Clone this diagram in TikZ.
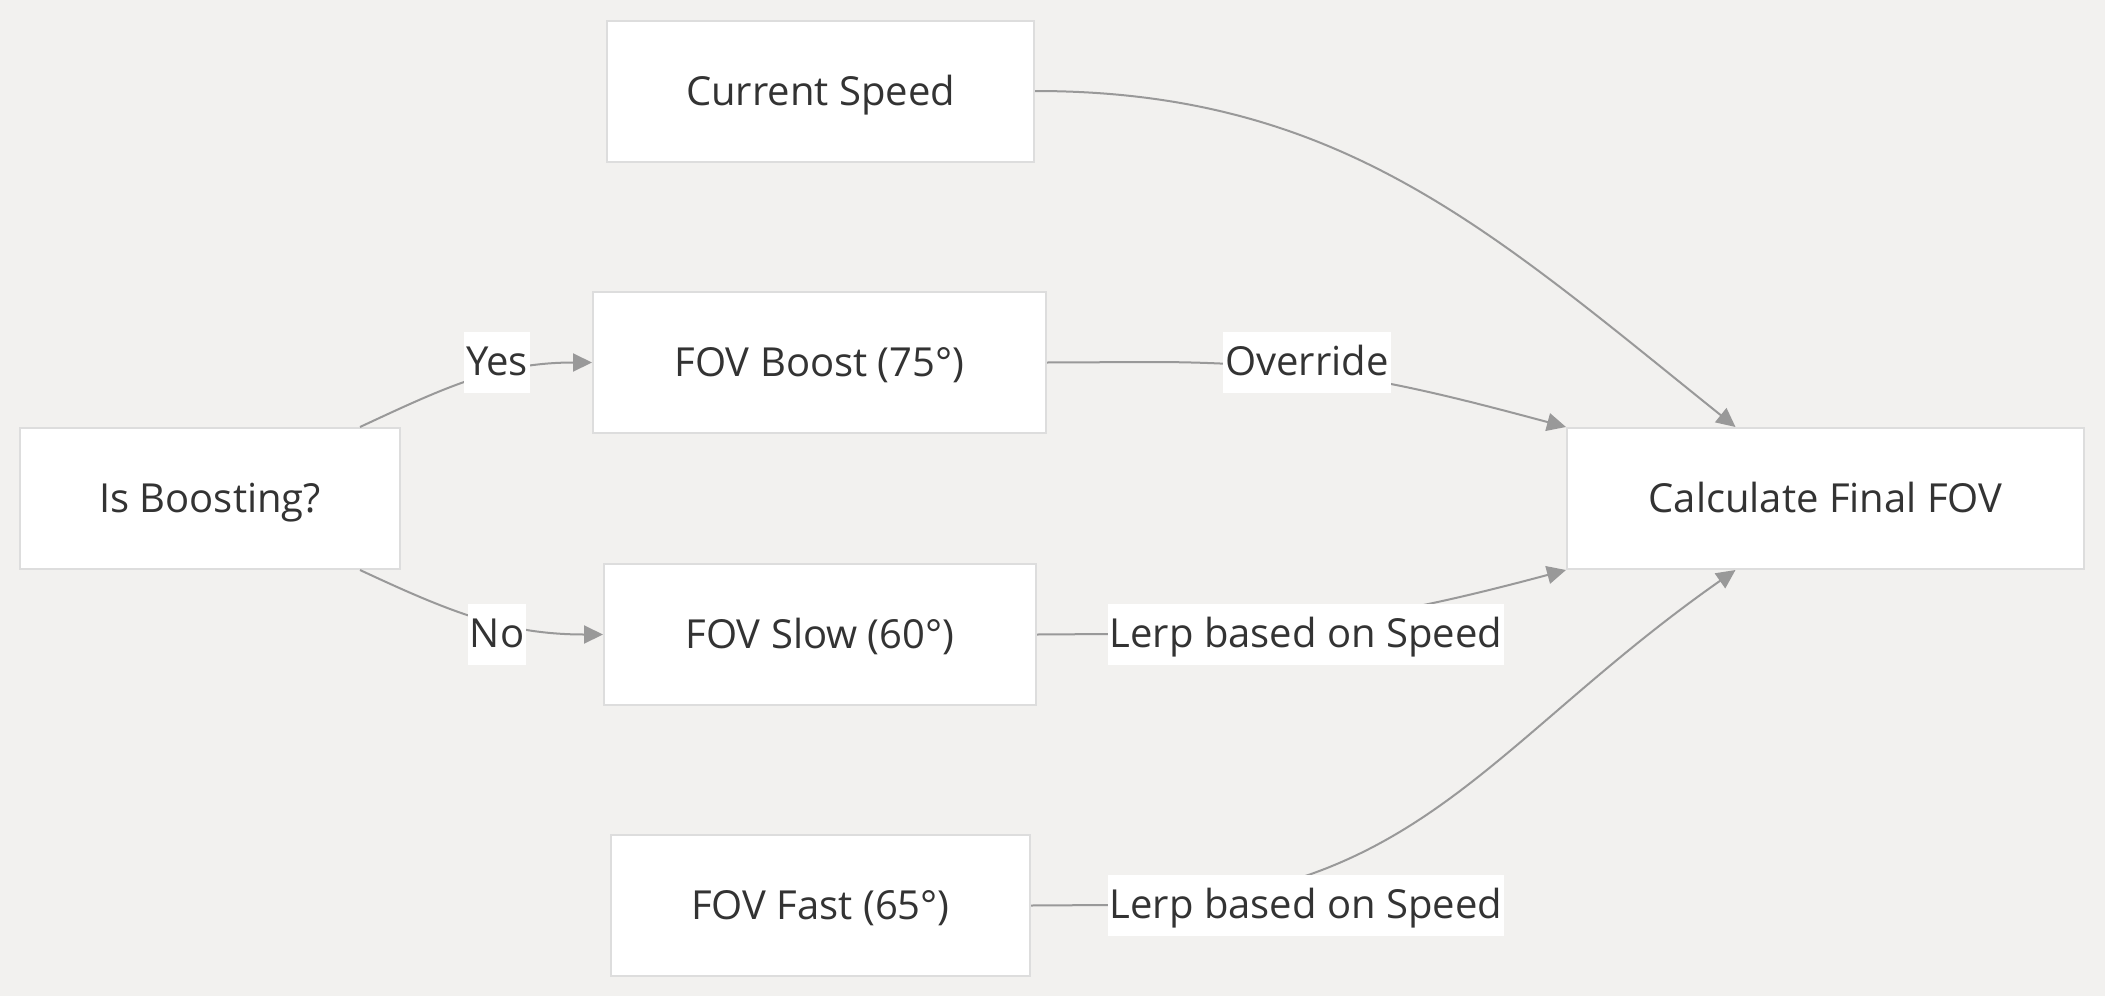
\documentclass[tikz,border=0pt]{standalone}
\usepackage{fontspec}
\setmainfont{Open Sans}
\usepackage{xcolor}
\usetikzlibrary{arrows.meta,calc,positioning}
\definecolor{bgcol}{HTML}{F2F1EF}
\definecolor{boxline}{HTML}{DDDDDD}
\definecolor{edgecol}{HTML}{999999}
\definecolor{txtcol}{HTML}{333333}

\begin{document}
\begin{tikzpicture}[x=0.5pt,y=0.5pt,>={Triangle[length=9.5pt,width=9pt]},
  font=\fontsize{20}{24}\selectfont,
  box/.style={draw=boxline,line width=1pt,fill=white,text=txtcol,minimum height=70.5pt,inner sep=0pt,text height=17pt,text depth=3pt},
  lbl/.style={fill=white,text=txtcol,inner xsep=1pt,inner ysep=0pt,minimum height=30.5pt,text height=17pt,text depth=3.5pt},
  edge/.style={draw=edgecol,line width=1pt}]
  \useasboundingbox[fill=bgcol] (0,0) rectangle (2105,-996);
  \node[box,minimum width=213.5pt] (speed) at (820.5,-91) {Current Speed};
  \node[box,minimum width=226.5pt] (boost) at (819.5,-362.5) {FOV Boost (75°)};
  \node[box,minimum width=190pt] (isboost) at (210,-498.5) {Is Boosting?};
  \node[box,minimum width=216pt] (slow) at (820,-634.5) {FOV Slow (60°)};
  \node[box,minimum width=209.5pt] (fast) at (820.5,-905.5) {FOV Fast (65°)};
  \node[box,minimum width=258.5pt] (calc) at (1825.5,-498.5) {Calculate Final FOV};

  \draw[edge,->] ([xshift=75pt]isboost.north) to[out=25,in=180] (boost.west);
  \draw[edge,->] ([xshift=75pt]isboost.south) to[out=-25,in=180] (slow.west);
  \draw[edge,->] (speed.east) .. controls (1340,-91) and (1490,-230) .. ([xshift=-45pt]calc.north);
  \draw[edge,->] (boost.east) -- (1150,-362) to[out=0,in=165] (calc.north west);
  \draw[edge,->] (slow.east) -- (1110,-634) to[out=0,in=195] (calc.south west);
  \draw[edge,->] (fast.east) -- (1110,-905) to[out=0,in=215,looseness=1.1] ([xshift=-45pt]calc.south);

  \node[lbl] (yes) at (497,-362) {Yes};
  \node[lbl] (no) at (497,-634) {No};
  \node[lbl] (override) at (1307,-362) {Override};
  \node[lbl] (lerpslow) at (1306,-634) {Lerp based on Speed};
  \node[lbl] (lerpfast) at (1306,-905) {Lerp based on Speed};
\end{tikzpicture}
\end{document}
